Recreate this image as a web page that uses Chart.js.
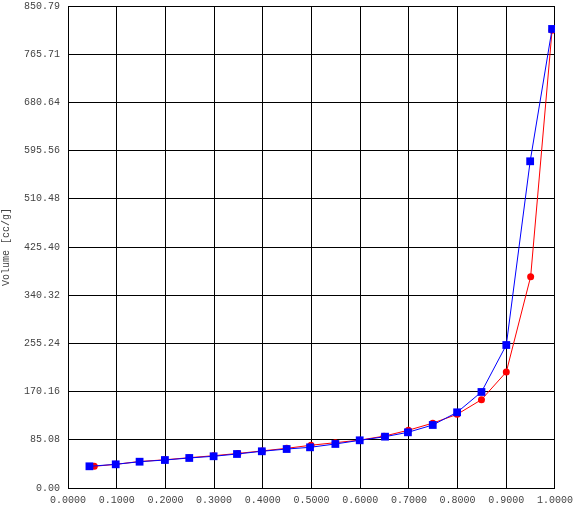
<!DOCTYPE html>
<html>
<head>
<meta charset="utf-8">
<script src="https://cdn.jsdelivr.net/npm/chart.js@4/dist/chart.umd.min.js"></script>
<style>
  html, body { margin: 0; padding: 0; background: #fff; }
  #wrap { width: 579px; height: 526px; }
</style>
</head>
<body>
<div id="wrap"><canvas id="chart" width="579" height="526"></canvas></div>
<script>
// Relative pressure (x) and volume (y) for the two branches
const xBlue = [0.044, 0.098, 0.147, 0.199, 0.249, 0.299, 0.347, 0.398, 0.449, 0.497,
               0.549, 0.599, 0.651, 0.698, 0.749, 0.799, 0.849, 0.900, 0.949, 0.994];
const blueVolume = [38.3, 41.8, 46.4, 49.4, 53.0, 56.0, 60.0, 64.8, 68.8, 71.8,
                    77.7, 84.2, 90.6, 98.3, 111.2, 133.6, 169.5, 252.4, 576.7, 810.3];
const xRed = [0.054, 0.098, 0.147, 0.199, 0.249, 0.299, 0.349, 0.399, 0.449, 0.499,
              0.549, 0.599, 0.649, 0.699, 0.749, 0.799, 0.849, 0.900, 0.950, 0.994];
const redVolume = [38.3, 41.8, 46.8, 49.8, 53.5, 57.0, 61.0, 65.5, 70.0, 75.5,
                   80.0, 84.5, 91.5, 102.0, 114.5, 130.0, 155.9, 204.8, 373.0, 808.0];

// Axis ticks
const xTicks = [0, 0.1, 0.2, 0.3, 0.4, 0.5, 0.6, 0.7, 0.8, 0.9, 1.0];
const yTicks = [0, 85.079, 170.158, 255.237, 340.316, 425.395, 510.474, 595.553, 680.632, 765.711, 850.79];
const yTickLabels = ['0.00', '85.08', '170.16', '255.24', '340.32', '425.40',
                     '510.48', '595.56', '680.64', '765.71', '850.79'];

const tickFont = { family: '"Liberation Mono", "Courier New", monospace', size: 10 };
const textColor = '#444';

function toPoints(xs, ys) {
    return xs.map((x, i) => ({ x: x, y: ys[i] }));
}

const ctx = document.getElementById('chart').getContext('2d');
new Chart(ctx, {
    type: 'line',
    data: {
        datasets: [{
            label: 'Desorption',
            data: toPoints(xBlue, blueVolume),
            borderColor: '#0000ff',
            backgroundColor: '#0000ff',
            borderWidth: 1,
            pointStyle: 'rect',
            pointRadius: 5.5,
            pointBorderWidth: 0,
            tension: 0
        }, {
            label: 'Adsorption',
            data: toPoints(xRed, redVolume),
            borderColor: '#ff0000',
            backgroundColor: '#ff0000',
            borderWidth: 1,
            pointStyle: 'circle',
            pointRadius: 3.5,
            pointBorderWidth: 0,
            tension: 0
        }]
    },
    options: {
        responsive: false,
        animation: false,
        layout: { padding: { top: 0, right: 24, left: 0, bottom: 0 } },
        plugins: {
            legend: { display: false },
            tooltip: { enabled: false }
        },
        scales: {
            x: {
                type: 'linear',
                min: 0,
                max: 1,
                afterBuildTicks: scale => { scale.ticks = xTicks.map(v => ({ value: v })); },
                afterFit: scale => { scale.height = 38; },
                ticks: {
                    font: tickFont,
                    color: textColor,
                    padding: 6,
                    maxRotation: 0,
                    autoSkip: false,
                    callback: v => Number(v).toFixed(4)
                },
                grid: { color: '#000', lineWidth: 1, drawTicks: false },
                border: { color: '#000', width: 1 }
            },
            y: {
                type: 'linear',
                min: 0,
                max: 850.79,
                afterBuildTicks: scale => { scale.ticks = yTicks.map(v => ({ value: v })); },
                afterFit: scale => {
                    scale.width = 68;
                    scale.paddingTop = 6;
                    scale.paddingBottom = 6;
                },
                ticks: {
                    font: tickFont,
                    color: textColor,
                    padding: 8,
                    autoSkip: false,
                    callback: (v, i) => yTickLabels[i]
                },
                title: {
                    display: true,
                    text: 'Volume [cc/g]',
                    font: tickFont,
                    color: textColor,
                    padding: { top: 0, bottom: 0 }
                },
                grid: { color: '#000', lineWidth: 1, drawTicks: false },
                border: { color: '#000', width: 1 }
            }
        }
    },
    plugins: [{
        id: 'whiteBg',
        beforeDraw: chart => {
            const c = chart.ctx;
            c.save();
            c.fillStyle = '#fff';
            c.fillRect(0, 0, chart.width, chart.height);
            c.restore();
        }
    }]
});
</script>
</body>
</html>
